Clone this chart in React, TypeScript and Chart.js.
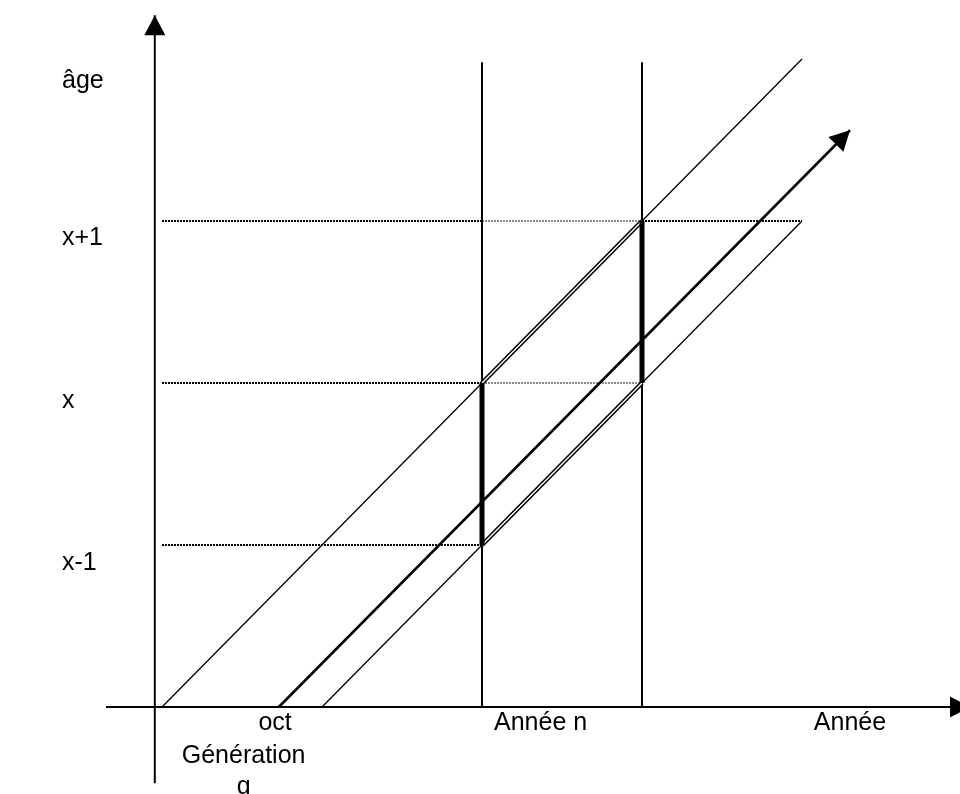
import React, { useEffect, useRef } from "react";
import { Chart, registerables } from "chart.js";

Chart.register(...registerables);

// Lexis diagram. Horizontal: time in years (0 = 1 January of "Année n").
// Vertical: age in completed years (x-1 = 1, x = 2, x+1 = 3).

// Visible window of the two scales
const viewTime = [-3.0125, 2.9875];
const viewAge = [-0.537, 4.364];

// Axes of the diagram
const timeAxisSpan = [-2.35, 3.05];
const ageAxisSpan = [-0.47, 4.27];
const ageAxisTime = -2.045;

// Year boundaries (Année n, Année n+1)
const yearLineTimes = [0, 1];
const yearLineTop = 3.98;

// Age levels and their labels
const ageLevels = [1, 2, 3];
const ageLevelLabels = ["x-1", "x", "x+1"];
const ageLevelEnds = [0, 1, 2];
const ageLevelStart = -2;

// Life lines of generation g
const lifeFirst = [
  { x: -2, y: 0 },
  { x: 2, y: 4 },
];
const lifeLast = [
  { x: -1, y: 0 },
  { x: 2, y: 3 },
];
const lifeOct = [
  { x: -1.27, y: 0 },
  { x: 2.3, y: 3.56 },
];

// Parts of the life lines drawn as double lines
const doubleFirst = [
  { x: 0, y: 2 },
  { x: 1, y: 3 },
];
const doubleLast = [
  { x: 0, y: 1 },
  { x: 1, y: 2 },
];

// Text labels
const sideLabels = ["âge", ...ageLevelLabels.slice().reverse()];
const sideLabelAges = [3.82, 3 - 0.15, 2 - 0.155, 1 - 0.155];
const sideLabelTime = -2.625;

const bottomLabels = ["oct", "Génération", "g", "Année n", "Année"];
const bottomLabelTimes = [-1.293, -1.49, -1.49, 0.366, 2.3];
const bottomLabelAges = [-0.142, -0.346, -0.535, -0.142, -0.142];

const FONT = '25px "Liberation Sans", Arial, sans-serif';

type P = { x: number; y: number };

function seg(
  data: P[],
  color: string,
  width: number,
  layer: number,
  extra: Record<string, unknown> = {}
) {
  return {
    data,
    showLine: true,
    borderColor: color,
    backgroundColor: color,
    borderWidth: width,
    pointRadius: 0,
    pointHoverRadius: 0,
    fill: false,
    tension: 0,
    order: 100 - layer,
    borderCapStyle: "butt",
    ...extra,
  };
}

function buildDatasets() {
  const ds: any[] = [];

  // dotted age levels
  ageLevels.forEach((age, i) => {
    const end = ageLevelEnds[i];
    ds.push(
      seg(
        [
          { x: ageLevelStart, y: age },
          { x: Math.min(end, yearLineTimes[0]), y: age },
        ],
        "#000000",
        2,
        1,
        { borderDash: [2, 1] }
      )
    );
    if (end > yearLineTimes[0]) {
      ds.push(
        seg(
          [
            { x: yearLineTimes[0], y: age },
            { x: Math.min(end, yearLineTimes[1]), y: age },
          ],
          "#8a8a8a",
          2,
          1,
          { borderDash: [2, 1] }
        )
      );
    }
    if (end > yearLineTimes[1]) {
      ds.push(
        seg(
          [
            { x: yearLineTimes[1], y: age },
            { x: end, y: age },
          ],
          "#000000",
          2,
          1,
          { borderDash: [2, 1] }
        )
      );
    }
  });

  // axes
  ds.push(
    seg(
      [
        { x: timeAxisSpan[0], y: 0 },
        { x: timeAxisSpan[1], y: 0 },
      ],
      "#000000",
      2,
      2,
      { arrow: true }
    )
  );
  ds.push(
    seg(
      [
        { x: ageAxisTime, y: ageAxisSpan[0] },
        { x: ageAxisTime, y: ageAxisSpan[1] },
      ],
      "#000000",
      2,
      2,
      { arrow: true }
    )
  );

  // year boundaries
  yearLineTimes.forEach((t) => {
    ds.push(
      seg(
        [
          { x: t, y: 0 },
          { x: t, y: yearLineTop },
        ],
        "#000000",
        2,
        2
      )
    );
  });

  // thin life lines
  ds.push(seg(lifeFirst, "#000000", 1.3, 2));
  ds.push(seg(lifeLast, "#000000", 1.3, 2));

  // life line of the October birth (arrow)
  ds.push(seg(lifeOct, "#000000", 2.5, 3, { arrow: true }));

  // double line parts
  ds.push(seg(doubleFirst, "#000000", 4.5, 4));
  ds.push(seg(doubleLast, "#000000", 4.5, 4));
  ds.push(seg(doubleFirst, "#ffffff", 1.4, 5));
  ds.push(seg(doubleLast, "#ffffff", 1.4, 5));

  // thick vertical bars inside the year boundaries
  yearLineTimes.forEach((t, k) => {
    ds.push(
      seg(
        [
          { x: t, y: ageLevels[k] },
          { x: t, y: ageLevels[k + 1] },
        ],
        "#000000",
        5,
        6
      )
    );
  });

  return ds;
}

const overlayPlugin = {
  id: "lexisOverlay",
  afterDraw(chart: any) {
    const ctx = chart.ctx as CanvasRenderingContext2D;
    const xs = chart.scales.x;
    const ys = chart.scales.y;

    // arrow heads at the end of flagged datasets
    chart.data.datasets.forEach((d: any, i: number) => {
      if (!d.arrow) return;
      const pts = chart.getDatasetMeta(i).data;
      if (pts.length < 2) return;
      const p1 = pts[pts.length - 1];
      const p0 = pts[pts.length - 2];
      const ang = Math.atan2(p1.y - p0.y, p1.x - p0.x);
      const len = 20;
      const half = 10.5;
      const bx = p1.x - len * Math.cos(ang);
      const by = p1.y - len * Math.sin(ang);
      const nx = -Math.sin(ang);
      const ny = Math.cos(ang);
      ctx.save();
      ctx.fillStyle = "#000000";
      ctx.beginPath();
      ctx.moveTo(p1.x, p1.y);
      ctx.lineTo(bx + half * nx, by + half * ny);
      ctx.lineTo(bx - half * nx, by - half * ny);
      ctx.closePath();
      ctx.fill();
      ctx.restore();
    });

    // texts
    ctx.save();
    ctx.font = FONT;
    ctx.fillStyle = "#000000";
    ctx.textBaseline = "alphabetic";
    ctx.textAlign = "left";
    sideLabels.forEach((s, i) => {
      ctx.fillText(
        s,
        xs.getPixelForValue(sideLabelTime),
        ys.getPixelForValue(sideLabelAges[i])
      );
    });
    ctx.textAlign = "center";
    bottomLabels.forEach((s, i) => {
      ctx.fillText(
        s,
        xs.getPixelForValue(bottomLabelTimes[i]),
        ys.getPixelForValue(bottomLabelAges[i])
      );
    });
    ctx.restore();
  },
};

export default function App() {
  const ref = useRef<HTMLCanvasElement | null>(null);

  useEffect(() => {
    if (!ref.current) return;
    const chart = new Chart(ref.current, {
      type: "scatter",
      data: { datasets: buildDatasets() },
      options: {
        animation: false,
        responsive: false,
        maintainAspectRatio: false,
        events: [],
        layout: { padding: 0 },
        plugins: {
          legend: { display: false },
          tooltip: { enabled: false },
          title: { display: false },
        },
        scales: {
          x: {
            type: "linear",
            min: viewTime[0],
            max: viewTime[1],
            display: false,
          },
          y: {
            type: "linear",
            min: viewAge[0],
            max: viewAge[1],
            display: false,
          },
        },
      } as any,
      plugins: [overlayPlugin],
    });
    return () => chart.destroy();
  }, []);

  return (
    <div
      style={{
        position: "absolute",
        left: 0,
        top: 0,
        width: 960,
        height: 794,
        background: "#ffffff",
      }}
    >
      <canvas ref={ref} width={960} height={794} />
    </div>
  );
}
